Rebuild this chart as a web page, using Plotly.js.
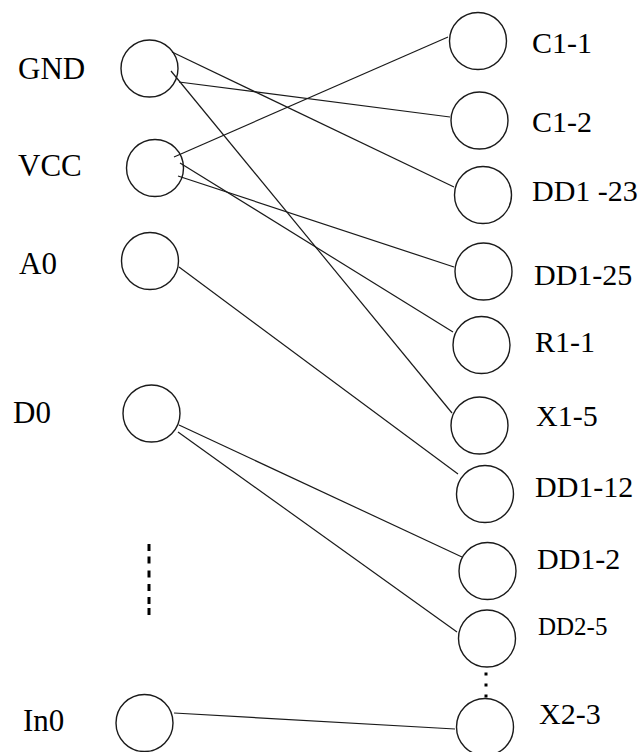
<!DOCTYPE html>
<html><head><meta charset="utf-8">
<script src="https://cdn.plot.ly/plotly-3.0.1.min.js"></script>
<style>html,body{margin:0;padding:0;background:#fff;overflow:hidden}#chart{width:642px;height:752px}</style>
</head><body><div id="chart"></div>
<script>
// Left-hand pins
const leftNames = ["GND", "VCC", "A0", "D0", "In0"];
const leftX = [149.5, 155, 150, 151.5, 144.5];
const leftY = [68.5, 168, 261, 413.5, 723];
const leftLabelX = [17, 17, 18, 12, 22];
const leftLabelY = [68, 165, 263, 412, 720];

// Right-hand pins
const rightNames = ["C1-1", "C1-2", "DD1 -23", "DD1-25", "R1-1", "X1-5", "DD1-12", "DD1-2", "DD2-5", "X2-3"];
const rightX = [478, 479.5, 483, 483.5, 481.5, 479.5, 485, 487.5, 487, 485];
const rightY = [41, 120.5, 195, 271.5, 345, 425.5, 494, 571, 638.5, 727];
const rightLabelX = [531, 531, 531, 533, 534, 535, 534, 536, 537, 538];
const rightLabelY = [42.5, 121, 190, 274, 341, 415, 486, 558, 626, 713];
const rightLabelSize = [30, 30, 30, 30, 30, 30, 30, 30, 25, 30];

// Connections (left pin -> right pin), with attach offsets on each circle
const edgeFrom = ["GND", "GND", "GND", "VCC", "VCC", "VCC", "A0", "D0", "D0", "In0"];
const edgeTo = ["C1-2", "DD1 -23", "X1-5", "C1-1", "DD1-25", "R1-1", "DD1-12", "DD1-2", "DD2-5", "X2-3"];
const fromDx = [29.5, 22.5, 21.5, 19, 23, 25, 29, 27.5, 26.5, 29.5];
const fromDy = [13.5, -16.5, 2.5, -11, 8, -5, 6, 11.5, 18.5, -10];
const toDx = [-29.5, -29, -27.5, -30, -29.5, -28.5, -27, -25.5, -30, -30];
const toDy = [-3.5, -8, -12.5, -4, -4.5, -13, -20, -14, -6.5, 2];

// Ellipsis dots
const leftDotsX = [149, 149, 149, 149, 149, 149];
const leftDotsY = [547.5, 560, 574, 587.5, 600.5, 611.5];
const rightDotsX = [486, 486, 486];
const rightDotsY = [674, 685, 696];

const ex = [], ey = [];
for (let i = 0; i < edgeFrom.length; i++) {
  const a = leftNames.indexOf(edgeFrom[i]);
  const b = rightNames.indexOf(edgeTo[i]);
  ex.push(leftX[a] + fromDx[i], rightX[b] + toDx[i], null);
  ey.push(leftY[a] + fromDy[i], rightY[b] + toDy[i], null);
}

const ink = "#1a1a1a";
const traces = [
  {x: ex, y: ey, mode: "lines", type: "scatter", hoverinfo: "skip",
   line: {color: ink, width: 1.2}},
  {x: leftX.concat(rightX), y: leftY.concat(rightY), mode: "markers", type: "scatter", hoverinfo: "skip",
   marker: {symbol: "circle-open", size: 57, color: ink, line: {color: ink, width: 1.4}}},
  {x: leftDotsX, y: leftDotsY, mode: "markers", type: "scatter", hoverinfo: "skip",
   marker: {symbol: "line-ns", size: 5, color: "#000", line: {color: "#000", width: 3}}},
  {x: rightDotsX, y: rightDotsY, mode: "markers", type: "scatter", hoverinfo: "skip",
   marker: {symbol: "square", size: 3, color: "#000"}}
];

const font = "'Liberation Serif', 'Times New Roman', 'DejaVu Serif', serif";
const annotations = [];
leftNames.forEach((n, i) => annotations.push({
  x: leftLabelX[i], y: leftLabelY[i], text: n, showarrow: false, xanchor: "left", yanchor: "middle",
  xref: "x", yref: "y", borderpad: 0, font: {family: font, size: 31, color: "#000"}}));
rightNames.forEach((n, i) => annotations.push({
  x: rightLabelX[i], y: rightLabelY[i], text: n, showarrow: false, xanchor: "left", yanchor: "middle",
  xref: "x", yref: "y", borderpad: 0, font: {family: font, size: rightLabelSize[i], color: "#000"}}));

const layout = {
  width: 642, height: 752, margin: {l: 0, r: 0, t: 0, b: 0},
  paper_bgcolor: "#fff", plot_bgcolor: "#fff", showlegend: false,
  font: {family: font},
  xaxis: {range: [0, 642], visible: false, fixedrange: true},
  yaxis: {range: [752, 0], visible: false, fixedrange: true},
  annotations: annotations
};
Plotly.newPlot("chart", traces, layout, {displayModeBar: false, staticPlot: true});
</script></body></html>
